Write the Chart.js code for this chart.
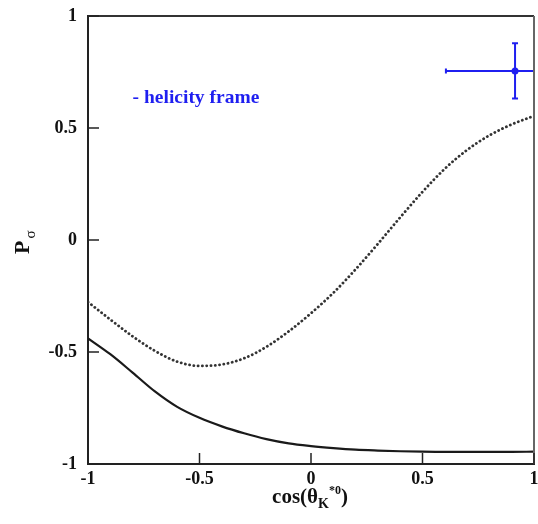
<!DOCTYPE html>
<html>
<head>
<meta charset="utf-8">
<script src="https://cdn.jsdelivr.net/npm/chart.js@4"></script>
<style>
  html, body { margin: 0; padding: 0; background: #fff; }
  #wrap { width: 538px; height: 524px; }
</style>
</head>
<body>
<div id="wrap"><canvas id="c" width="538" height="524"></canvas></div>
<script>
// cos(theta) sampling points shared by both model curves
const cosTheta = [-1, -0.9, -0.8, -0.7, -0.6, -0.5, -0.4, -0.3, -0.2, -0.1, 0,
                  0.1, 0.2, 0.3, 0.4, 0.5, 0.6, 0.7, 0.8, 0.9, 1];

// dotted model curve
const pDotted = [-0.277, -0.355, -0.43, -0.495, -0.543, -0.562, -0.556, -0.528, -0.477, -0.408, -0.327,
                 -0.236, -0.131, -0.017, 0.101, 0.215, 0.318, 0.402, 0.467, 0.516, 0.554];

// solid model curve
const pSolid = [-0.439, -0.51, -0.592, -0.676, -0.745, -0.794, -0.832, -0.863, -0.889, -0.908, -0.92,
                -0.929, -0.936, -0.94, -0.943, -0.945, -0.946, -0.946, -0.946, -0.946, -0.945];

// measured point with errors
const obsX = [0.915];
const obsY = [0.755];
const obsXErr = [0.31];
const obsYErr = [0.123];

// axis ticks
const tickValues = [-1, -0.5, 0, 0.5, 1];
const tickLabels = ['-1', '-0.5', '0', '0.5', '1'];

const annotationText = '- helicity frame';

const SERIF = '"Liberation Serif", "Times New Roman", serif';
const BLUE = '#1f1ff0';

const toPoints = (xs, ys) => xs.map((x, i) => ({ x: x, y: ys[i] }));

const framePlugin = {
  id: 'frame',
  afterDraw(chart) {
    const { ctx, chartArea: a, scales } = chart;
    ctx.save();
    // top and right frame lines
    ctx.lineWidth = 2;
    ctx.strokeStyle = '#333';
    ctx.beginPath();
    ctx.moveTo(a.left, a.top); ctx.lineTo(a.right, a.top);
    ctx.stroke();
    ctx.strokeStyle = '#666';
    ctx.beginPath();
    ctx.moveTo(a.right, a.top); ctx.lineTo(a.right, a.bottom);
    ctx.stroke();

    // inward ticks on the left and bottom axes
    ctx.strokeStyle = '#222';
    ctx.lineWidth = 1.5;
    const tl = 11;
    tickValues.forEach(v => {
      const px = scales.x.getPixelForValue(v);
      ctx.beginPath(); ctx.moveTo(px, a.bottom); ctx.lineTo(px, a.bottom - tl); ctx.stroke();
      const py = scales.y.getPixelForValue(v);
      ctx.beginPath(); ctx.moveTo(a.left, py); ctx.lineTo(a.left + tl, py); ctx.stroke();
    });

    // y axis title: P with subscript sigma
    ctx.fillStyle = '#111';
    ctx.save();
    ctx.translate(29, 254);
    ctx.rotate(-Math.PI / 2);
    ctx.textBaseline = 'alphabetic';
    ctx.textAlign = 'left';
    ctx.font = 'bold 22px ' + SERIF;
    ctx.fillText('P', 0, 0);
    const wP = ctx.measureText('P').width;
    ctx.font = '15px ' + SERIF;
    ctx.fillText('σ', wP + 2, 6);
    ctx.restore();

    // x axis title: cos(theta_K^*0)
    const parts = [
      { t: 'cos(θ', f: 'bold 21px ' + SERIF, dy: 0 },
      { t: 'K', f: 'bold 14px ' + SERIF, dy: 5 },
      { t: '*0', f: 'bold 12px ' + SERIF, dy: -9 },
      { t: ')', f: 'bold 21px ' + SERIF, dy: 0 }
    ];
    let total = 0;
    parts.forEach(p => { ctx.font = p.f; p.w = ctx.measureText(p.t).width; total += p.w; });
    let x = (a.left + a.right) / 2 - total / 2 - 1;
    const base = 503;
    ctx.textAlign = 'left';
    ctx.textBaseline = 'alphabetic';
    parts.forEach(p => { ctx.font = p.f; ctx.fillText(p.t, x, base + p.dy); x += p.w; });

    // annotation text
    ctx.fillStyle = BLUE;
    ctx.font = 'bold 19.5px ' + SERIF;
    ctx.fillText(annotationText, scales.x.getPixelForValue(-0.8), scales.y.getPixelForValue(0.61));
    ctx.restore();
  },
  afterDatasetsDraw(chart) {
    const { ctx, chartArea: a, scales } = chart;
    ctx.save();
    ctx.beginPath();
    ctx.rect(a.left, a.top, a.right - a.left, a.bottom - a.top);
    ctx.clip();
    ctx.strokeStyle = BLUE;
    ctx.lineWidth = 2;
    obsX.forEach((xv, i) => {
      const cx = scales.x.getPixelForValue(xv);
      const cy = scales.y.getPixelForValue(obsY[i]);
      const x0 = scales.x.getPixelForValue(xv - obsXErr[i]);
      const x1 = scales.x.getPixelForValue(xv + obsXErr[i]);
      const y0 = scales.y.getPixelForValue(obsY[i] - obsYErr[i]);
      const y1 = scales.y.getPixelForValue(obsY[i] + obsYErr[i]);
      ctx.beginPath();
      ctx.moveTo(x0, cy); ctx.lineTo(x1, cy);
      ctx.moveTo(cx, y0); ctx.lineTo(cx, y1);
      ctx.moveTo(cx - 3, y0); ctx.lineTo(cx + 3, y0);
      ctx.moveTo(cx - 3, y1); ctx.lineTo(cx + 3, y1);
      ctx.moveTo(x0, cy - 2.5); ctx.lineTo(x0, cy + 2.5);
      ctx.stroke();
    });
    ctx.restore();
  }
};

new Chart(document.getElementById('c'), {
  type: 'scatter',
  data: {
    datasets: [
      {
        label: 'dotted',
        data: toPoints(cosTheta, pDotted),
        showLine: true,
        borderColor: '#333',
        borderWidth: 2.8,
        borderDash: [0.1, 4.2],
        borderCapStyle: 'round',
        pointRadius: 0,
        cubicInterpolationMode: 'monotone',
        fill: false
      },
      {
        label: 'solid',
        data: toPoints(cosTheta, pSolid),
        showLine: true,
        borderColor: '#1a1a1a',
        borderWidth: 2.2,
        pointRadius: 0,
        cubicInterpolationMode: 'monotone',
        fill: false
      },
      {
        label: 'data',
        data: toPoints(obsX, obsY),
        showLine: false,
        pointRadius: 3.5,
        pointBackgroundColor: BLUE,
        pointBorderColor: BLUE,
        borderWidth: 0
      }
    ]
  },
  options: {
    responsive: false,
    animation: false,
    events: [],
    layout: { padding: { top: 16, right: 2, left: 0, bottom: 0 } },
    plugins: { legend: { display: false }, tooltip: { enabled: false } },
    scales: {
      x: {
        type: 'linear',
        min: -1, max: 1,
        border: { display: true, color: '#222', width: 2 },
        grid: { display: false, drawTicks: false },
        afterBuildTicks(s) { s.ticks = tickValues.map(v => ({ value: v })); },
        afterFit(s) { s.height = 60; s.paddingLeft = 0; s.paddingRight = 0; },
        ticks: {
          padding: 5,
          color: '#111',
          font: { family: SERIF, size: 18, weight: 'bold' },
          maxRotation: 0,
          callback: (v) => tickLabels[tickValues.indexOf(v)]
        }
      },
      y: {
        type: 'linear',
        min: -1, max: 1,
        border: { display: true, color: '#222', width: 2 },
        grid: { display: false, drawTicks: false },
        afterBuildTicks(s) { s.ticks = tickValues.map(v => ({ value: v })); },
        afterFit(s) { s.width = 88; s.paddingTop = 0; s.paddingBottom = 0; },
        ticks: {
          padding: 11,
          color: '#111',
          font: { family: SERIF, size: 18, weight: 'bold' },
          callback: (v) => tickLabels[tickValues.indexOf(v)]
        }
      }
    }
  },
  plugins: [framePlugin]
});
</script>
</body>
</html>
